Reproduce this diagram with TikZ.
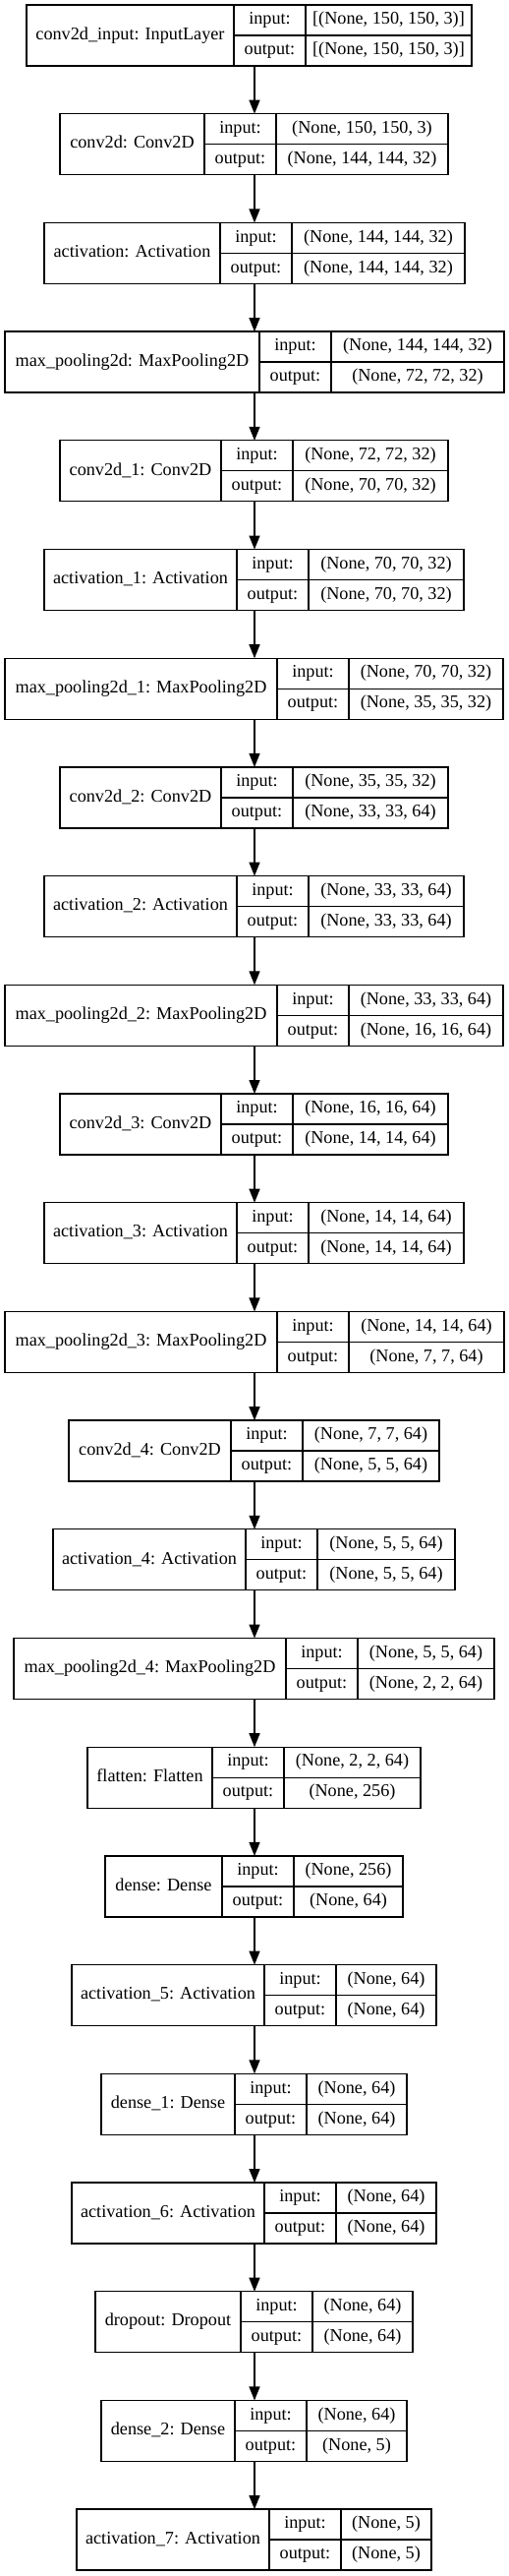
\documentclass[tikz,border=0pt]{standalone}
\usepackage{fontspec}
\setmainfont{Liberation Serif}
\usepackage{tikz}
\usetikzlibrary{arrows.meta,positioning}

\begin{document}
\begin{tikzpicture}[x=1pt,y=-1pt,line width=1.3pt,>={Triangle[length=14pt,width=11pt]},
    font=\fontsize{18.2}{22}\selectfont,
    layerbox/.style={draw,rectangle,anchor=north west,minimum height=62pt,inner sep=0pt,outer sep=0pt,
      text height=12.5pt,text depth=4pt},
    portcell/.style={draw,rectangle,anchor=north west,minimum width=73pt,minimum height=31pt,inner sep=0pt,
      outer sep=0pt,text height=12.5pt,text depth=4pt}]
    \useasboundingbox (0,0) rectangle (517,2619);
    \coordinate (axis) at (259,0);

    %input row
    \node[layerbox,minimum width=211pt] (l_1) at (27,5) {conv2d\_input: InputLayer};
    \node[portcell] (i_1) at (l_1.north east) {input:};
    \node[portcell] (o_1) [below=0pt of i_1] {output:};
    \node[portcell,minimum width=169pt] (vi_1) [right=0pt of i_1] {[(None, 150, 150, 3)]};
    \node[portcell,minimum width=169pt] (vo_1) [below=0pt of vi_1] {[(None, 150, 150, 3)]};

    %block 0
    \node[layerbox,minimum width=147pt] (l_2) at (61,115.7) {conv2d: Conv2D};
    \node[portcell] (i_2) at (l_2.north east) {input:};
    \node[portcell] (o_2) [below=0pt of i_2] {output:};
    \node[portcell,minimum width=175pt] (vi_2) [right=0pt of i_2] {(None, 150, 150, 3)};
    \node[portcell,minimum width=175pt] (vo_2) [below=0pt of vi_2] {(None, 144, 144, 32)};

    \node[layerbox,minimum width=179pt] (l_3) at (45,226.4) {activation: Activation};
    \node[portcell] (i_3) at (l_3.north east) {input:};
    \node[portcell] (o_3) [below=0pt of i_3] {output:};
    \node[portcell,minimum width=176pt] (vi_3) [right=0pt of i_3] {(None, 144, 144, 32)};
    \node[portcell,minimum width=176pt] (vo_3) [below=0pt of vi_3] {(None, 144, 144, 32)};

    \node[layerbox,minimum width=259pt] (l_4) at (5,337.1) {max\_pooling2d: MaxPooling2D};
    \node[portcell] (i_4) at (l_4.north east) {input:};
    \node[portcell] (o_4) [below=0pt of i_4] {output:};
    \node[portcell,minimum width=176pt] (vi_4) [right=0pt of i_4] {(None, 144, 144, 32)};
    \node[portcell,minimum width=176pt] (vo_4) [below=0pt of vi_4] {(None, 72, 72, 32)};

    %block 1
    \node[layerbox,minimum width=164pt] (l_5) at (61,447.8) {conv2d\_1: Conv2D};
    \node[portcell] (i_5) at (l_5.north east) {input:};
    \node[portcell] (o_5) [below=0pt of i_5] {output:};
    \node[portcell,minimum width=158pt] (vi_5) [right=0pt of i_5] {(None, 72, 72, 32)};
    \node[portcell,minimum width=158pt] (vo_5) [below=0pt of vi_5] {(None, 70, 70, 32)};

    \node[layerbox,minimum width=196pt] (l_6) at (45,558.5) {activation\_1: Activation};
    \node[portcell] (i_6) at (l_6.north east) {input:};
    \node[portcell] (o_6) [below=0pt of i_6] {output:};
    \node[portcell,minimum width=158pt] (vi_6) [right=0pt of i_6] {(None, 70, 70, 32)};
    \node[portcell,minimum width=158pt] (vo_6) [below=0pt of vi_6] {(None, 70, 70, 32)};

    \node[layerbox,minimum width=277pt] (l_7) at (5,669.2) {max\_pooling2d\_1: MaxPooling2D};
    \node[portcell] (i_7) at (l_7.north east) {input:};
    \node[portcell] (o_7) [below=0pt of i_7] {output:};
    \node[portcell,minimum width=157pt] (vi_7) [right=0pt of i_7] {(None, 70, 70, 32)};
    \node[portcell,minimum width=157pt] (vo_7) [below=0pt of vi_7] {(None, 35, 35, 32)};

    %block 2
    \node[layerbox,minimum width=164pt] (l_8) at (61,779.9) {conv2d\_2: Conv2D};
    \node[portcell] (i_8) at (l_8.north east) {input:};
    \node[portcell] (o_8) [below=0pt of i_8] {output:};
    \node[portcell,minimum width=158pt] (vi_8) [right=0pt of i_8] {(None, 35, 35, 32)};
    \node[portcell,minimum width=158pt] (vo_8) [below=0pt of vi_8] {(None, 33, 33, 64)};

    \node[layerbox,minimum width=196pt] (l_9) at (45,890.6) {activation\_2: Activation};
    \node[portcell] (i_9) at (l_9.north east) {input:};
    \node[portcell] (o_9) [below=0pt of i_9] {output:};
    \node[portcell,minimum width=158pt] (vi_9) [right=0pt of i_9] {(None, 33, 33, 64)};
    \node[portcell,minimum width=158pt] (vo_9) [below=0pt of vi_9] {(None, 33, 33, 64)};

    \node[layerbox,minimum width=277pt] (l_10) at (5,1001.3) {max\_pooling2d\_2: MaxPooling2D};
    \node[portcell] (i_10) at (l_10.north east) {input:};
    \node[portcell] (o_10) [below=0pt of i_10] {output:};
    \node[portcell,minimum width=157pt] (vi_10) [right=0pt of i_10] {(None, 33, 33, 64)};
    \node[portcell,minimum width=157pt] (vo_10) [below=0pt of vi_10] {(None, 16, 16, 64)};

    %block 3
    \node[layerbox,minimum width=164pt] (l_11) at (61,1112) {conv2d\_3: Conv2D};
    \node[portcell] (i_11) at (l_11.north east) {input:};
    \node[portcell] (o_11) [below=0pt of i_11] {output:};
    \node[portcell,minimum width=158pt] (vi_11) [right=0pt of i_11] {(None, 16, 16, 64)};
    \node[portcell,minimum width=158pt] (vo_11) [below=0pt of vi_11] {(None, 14, 14, 64)};

    \node[layerbox,minimum width=196pt] (l_12) at (45,1222.7) {activation\_3: Activation};
    \node[portcell] (i_12) at (l_12.north east) {input:};
    \node[portcell] (o_12) [below=0pt of i_12] {output:};
    \node[portcell,minimum width=158pt] (vi_12) [right=0pt of i_12] {(None, 14, 14, 64)};
    \node[portcell,minimum width=158pt] (vo_12) [below=0pt of vi_12] {(None, 14, 14, 64)};

    \node[layerbox,minimum width=277pt] (l_13) at (5,1333.4) {max\_pooling2d\_3: MaxPooling2D};
    \node[portcell] (i_13) at (l_13.north east) {input:};
    \node[portcell] (o_13) [below=0pt of i_13] {output:};
    \node[portcell,minimum width=158pt] (vi_13) [right=0pt of i_13] {(None, 14, 14, 64)};
    \node[portcell,minimum width=158pt] (vo_13) [below=0pt of vi_13] {(None, 7, 7, 64)};

    %block 4
    \node[layerbox,minimum width=165pt] (l_14) at (70,1444.1) {conv2d\_4: Conv2D};
    \node[portcell] (i_14) at (l_14.north east) {input:};
    \node[portcell] (o_14) [below=0pt of i_14] {output:};
    \node[portcell,minimum width=139pt] (vi_14) [right=0pt of i_14] {(None, 7, 7, 64)};
    \node[portcell,minimum width=139pt] (vo_14) [below=0pt of vi_14] {(None, 5, 5, 64)};

    \node[layerbox,minimum width=196pt] (l_15) at (54,1554.8) {activation\_4: Activation};
    \node[portcell] (i_15) at (l_15.north east) {input:};
    \node[portcell] (o_15) [below=0pt of i_15] {output:};
    \node[portcell,minimum width=140pt] (vi_15) [right=0pt of i_15] {(None, 5, 5, 64)};
    \node[portcell,minimum width=140pt] (vo_15) [below=0pt of vi_15] {(None, 5, 5, 64)};

    \node[layerbox,minimum width=277pt] (l_16) at (14,1665.5) {max\_pooling2d\_4: MaxPooling2D};
    \node[portcell] (i_16) at (l_16.north east) {input:};
    \node[portcell] (o_16) [below=0pt of i_16] {output:};
    \node[portcell,minimum width=139pt] (vi_16) [right=0pt of i_16] {(None, 5, 5, 64)};
    \node[portcell,minimum width=139pt] (vo_16) [below=0pt of vi_16] {(None, 2, 2, 64)};

    %dense head
    \node[layerbox,minimum width=127pt] (l_17) at (89,1776.2) {flatten: Flatten};
    \node[portcell] (i_17) at (l_17.north east) {input:};
    \node[portcell] (o_17) [below=0pt of i_17] {output:};
    \node[portcell,minimum width=139pt] (vi_17) [right=0pt of i_17] {(None, 2, 2, 64)};
    \node[portcell,minimum width=139pt] (vo_17) [below=0pt of vi_17] {(None, 256)};

    \node[layerbox,minimum width=119pt] (l_18) at (107,1886.9) {dense: Dense};
    \node[portcell] (i_18) at (l_18.north east) {input:};
    \node[portcell] (o_18) [below=0pt of i_18] {output:};
    \node[portcell,minimum width=111pt] (vi_18) [right=0pt of i_18] {(None, 256)};
    \node[portcell,minimum width=111pt] (vo_18) [below=0pt of vi_18] {(None, 64)};

    \node[layerbox,minimum width=196pt] (l_19) at (73,1997.6) {activation\_5: Activation};
    \node[portcell] (i_19) at (l_19.north east) {input:};
    \node[portcell] (o_19) [below=0pt of i_19] {output:};
    \node[portcell,minimum width=102pt] (vi_19) [right=0pt of i_19] {(None, 64)};
    \node[portcell,minimum width=102pt] (vo_19) [below=0pt of vi_19] {(None, 64)};

    \node[layerbox,minimum width=136pt] (l_20) at (103,2108.3) {dense\_1: Dense};
    \node[portcell] (i_20) at (l_20.north east) {input:};
    \node[portcell] (o_20) [below=0pt of i_20] {output:};
    \node[portcell,minimum width=102pt] (vi_20) [right=0pt of i_20] {(None, 64)};
    \node[portcell,minimum width=102pt] (vo_20) [below=0pt of vi_20] {(None, 64)};

    \node[layerbox,minimum width=196pt] (l_21) at (73,2219) {activation\_6: Activation};
    \node[portcell] (i_21) at (l_21.north east) {input:};
    \node[portcell] (o_21) [below=0pt of i_21] {output:};
    \node[portcell,minimum width=102pt] (vi_21) [right=0pt of i_21] {(None, 64)};
    \node[portcell,minimum width=102pt] (vo_21) [below=0pt of vi_21] {(None, 64)};

    \node[layerbox,minimum width=148pt] (l_22) at (97,2329.7) {dropout: Dropout};
    \node[portcell] (i_22) at (l_22.north east) {input:};
    \node[portcell] (o_22) [below=0pt of i_22] {output:};
    \node[portcell,minimum width=102pt] (vi_22) [right=0pt of i_22] {(None, 64)};
    \node[portcell,minimum width=102pt] (vo_22) [below=0pt of vi_22] {(None, 64)};

    \node[layerbox,minimum width=136pt] (l_23) at (103,2440.4) {dense\_2: Dense};
    \node[portcell] (i_23) at (l_23.north east) {input:};
    \node[portcell] (o_23) [below=0pt of i_23] {output:};
    \node[portcell,minimum width=102pt] (vi_23) [right=0pt of i_23] {(None, 64)};
    \node[portcell,minimum width=102pt] (vo_23) [below=0pt of vi_23] {(None, 5)};

    \node[layerbox,minimum width=196pt] (l_24) at (78,2551.1) {activation\_7: Activation};
    \node[portcell] (i_24) at (l_24.north east) {input:};
    \node[portcell] (o_24) [below=0pt of i_24] {output:};
    \node[portcell,minimum width=92pt] (vi_24) [right=0pt of i_24] {(None, 5)};
    \node[portcell,minimum width=92pt] (vo_24) [below=0pt of vi_24] {(None, 5)};

    %flow between layers
    \path[->]
    (l_1.south -| axis) edge (l_2.north -| axis)
    (l_2.south -| axis) edge (l_3.north -| axis)
    (l_3.south -| axis) edge (l_4.north -| axis)
    (l_4.south -| axis) edge (l_5.north -| axis)
    (l_5.south -| axis) edge (l_6.north -| axis)
    (l_6.south -| axis) edge (l_7.north -| axis)
    (l_7.south -| axis) edge (l_8.north -| axis)
    (l_8.south -| axis) edge (l_9.north -| axis)
    (l_9.south -| axis) edge (l_10.north -| axis)
    (l_10.south -| axis) edge (l_11.north -| axis)
    (l_11.south -| axis) edge (l_12.north -| axis)
    (l_12.south -| axis) edge (l_13.north -| axis)
    (l_13.south -| axis) edge (l_14.north -| axis)
    (l_14.south -| axis) edge (l_15.north -| axis)
    (l_15.south -| axis) edge (l_16.north -| axis)
    (l_16.south -| axis) edge (l_17.north -| axis)
    (l_17.south -| axis) edge (l_18.north -| axis)
    (l_18.south -| axis) edge (l_19.north -| axis)
    (l_19.south -| axis) edge (l_20.north -| axis)
    (l_20.south -| axis) edge (l_21.north -| axis)
    (l_21.south -| axis) edge (l_22.north -| axis)
    (l_22.south -| axis) edge (l_23.north -| axis)
    (l_23.south -| axis) edge (l_24.north -| axis);

\end{tikzpicture}
\end{document}
